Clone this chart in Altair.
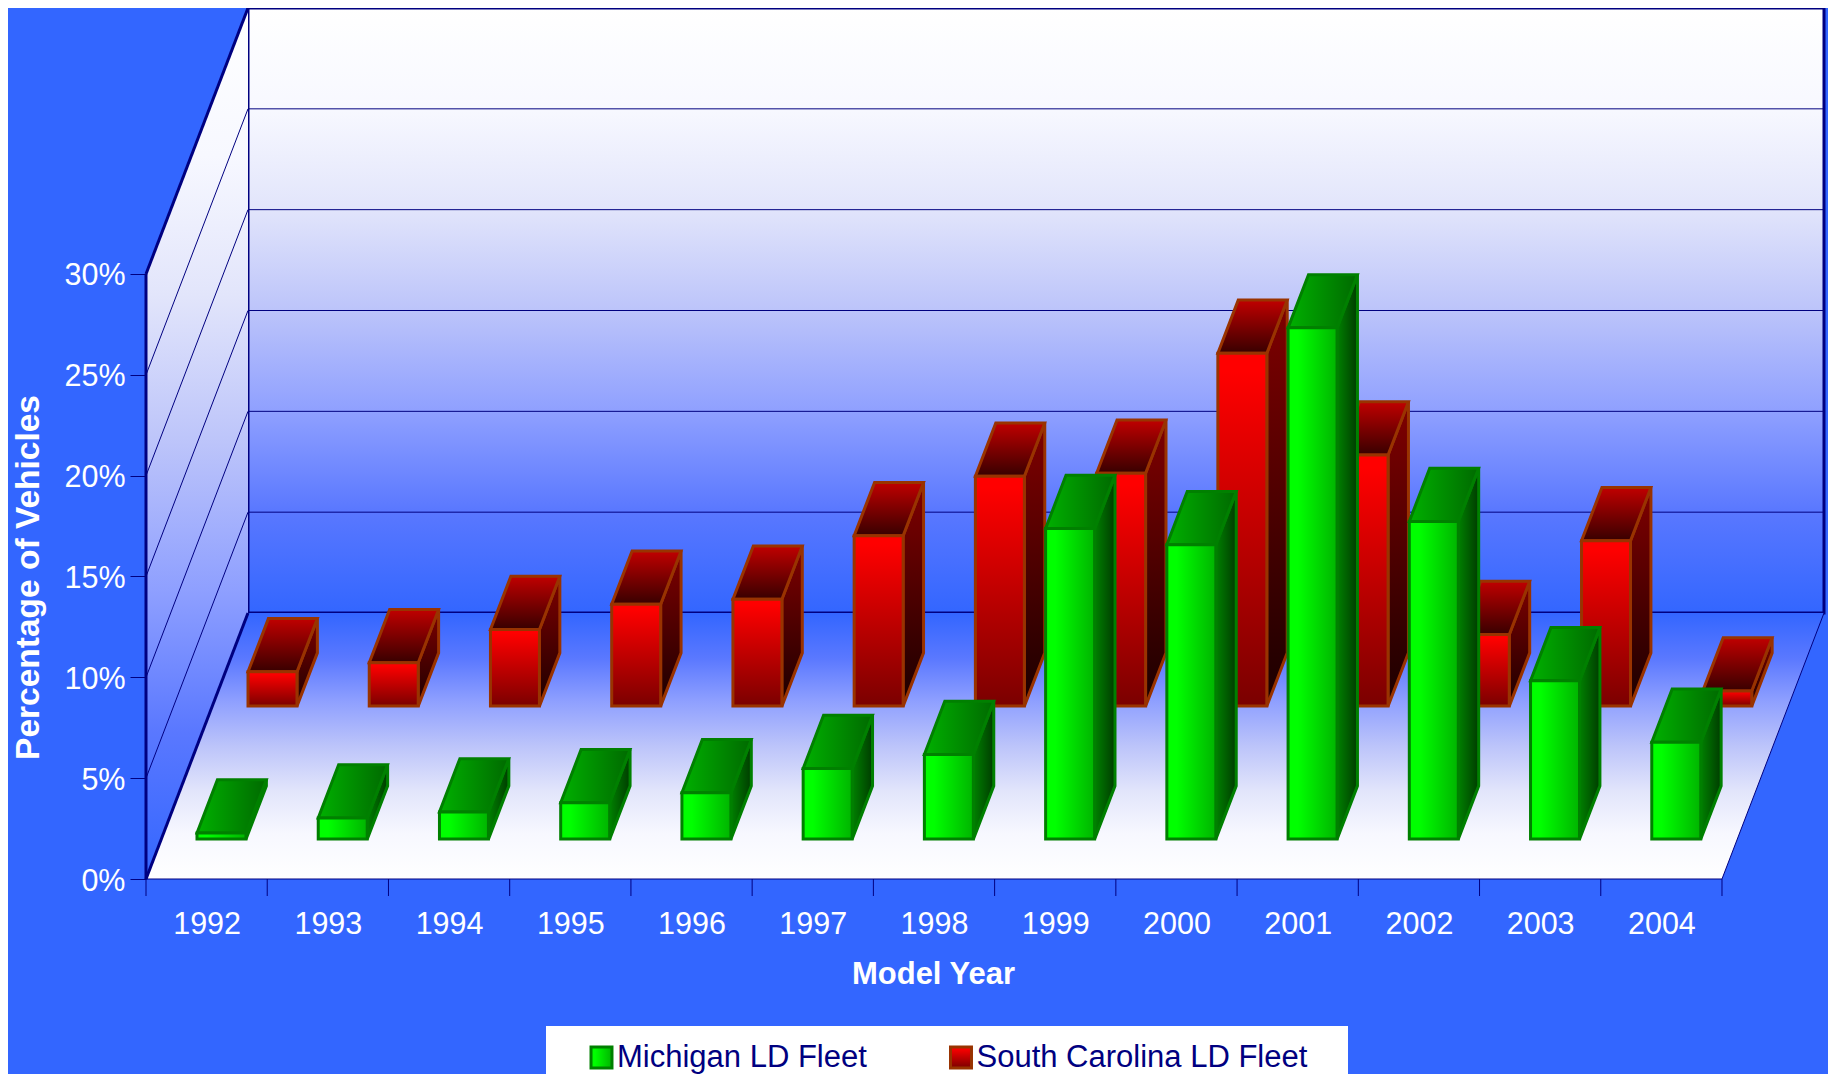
import altair as alt
import pandas as pd

YEARS = [1992, 1993, 1994, 1995, 1996, 1997, 1998, 1999, 2000, 2001, 2002, 2003, 2004]
MICHIGAN = [0.3, 1.05, 1.35, 1.8, 2.3, 3.5, 4.2, 15.4, 14.6, 25.35, 15.75, 7.85, 4.8]
CAROLINA = [1.7, 2.15, 3.8, 5.05, 5.3, 8.45, 11.4, 11.55, 17.5, 12.45, 3.55, 8.2, 0.75]
SERIES = ["Michigan LD Fleet", "South Carolina LD Fleet"]
TICKS = [0, 5, 10, 15, 20, 25, 30]

# oblique projection, in axis units
DX, DY = 0.8414, 13.19
N, YMAX = len(YEARS), 30
BAR_X0, BAR_W, BAR_DEPTH = 0.2945, 0.404, 0.2
SERIES_DEPTH = {SERIES[0]: 0.15, SERIES[1]: 0.65}

NAVY, BLUE = "#000080", "#3366ff"
FONT = "Liberation Sans"
W, H = 1678, 871

WALL_STOPS = [(0, "#ffffff"), (0.17, "#f7f8ff"), (0.33, "#e2e5fb"), (0.5, "#bcc4fa"),
              (0.67, "#8e9fff"), (0.83, "#5a78ff"), (1, BLUE)]


def grad(c0, c1, vertical=True):
    return alt.LinearGradient(
        gradient="linear",
        stops=[alt.GradientStop(offset=0, color=c0), alt.GradientStop(offset=1, color=c1)],
        x1=0, y1=0, x2=0 if vertical else 1, y2=1 if vertical else 0)


def wall_grad(reverse=False):
    stops = [alt.GradientStop(offset=1 - o if reverse else o, color=c) for o, c in WALL_STOPS]
    stops.sort(key=lambda s: s.offset)
    return alt.LinearGradient(gradient="linear", stops=stops, x1=0, y1=0, x2=0, y2=1)


def grad_expr(c0, c1, vertical=True, mid=0):
    return alt.expr(
        "{gradient:'linear',x1:0,y1:0,x2:%d,y2:%d,stops:[{offset:0,color:'%s'},{offset:%s,color:'%s'},{offset:1,color:'%s'}]}"
        % (0 if vertical else 1, 1 if vertical else 0, c0, mid, c0, c1)
    )


def frames(series, values):
    t0 = SERIES_DEPTH[series]
    t1 = t0 + BAR_DEPTH
    front, side, top = [], [], []
    for i, (yr, v) in enumerate(zip(YEARS, values)):
        xl, xr = i + BAR_X0, i + BAR_X0 + BAR_W
        base = DY * t0
        front.append(dict(year=yr, series=series, x=xl + DX * t0, x2=xr + DX * t0, y=base, y2=base + v))
        for t in (t0, t1):
            side.append(dict(year=yr, x=xr + DX * t, y=DY * t, y2=DY * t + v))
            top.append(dict(year=yr, y=DY * t + v, x=xl + DX * t, x2=xr + DX * t))
    return pd.DataFrame(front), pd.DataFrame(side), pd.DataFrame(top)


xs = alt.Scale(domain=[0, N + DX], nice=False, zero=False)
ys = alt.Scale(domain=[0, YMAX + DY], nice=False, zero=False)

x_axis = alt.Axis(
    values=[i + 0.5 for i in range(N)], labelExpr="%s[floor(datum.value)]" % YEARS,
    ticks=False, domain=False, grid=False, labelColor="white", labelFont=FONT, labelFontSize=30.5,
    labelPadding=30, labelFlush=False, labelOverlap=False, labelAngle=0,
    title="Model Year", titleColor="white", titleFont=FONT, titleFontSize=31, titleFontWeight="bold",
    titleX=787, titleY=95, titleBaseline="middle", titleAlign="center")
y_axis = alt.Axis(
    values=TICKS, labelExpr="datum.value + '%'", tickColor=NAVY, tickSize=16, tickWidth=1,
    domain=False, grid=False, labelColor="white", labelFont=FONT, labelFontSize=30.5, labelPadding=5,
    labelOffset=2,
    title="Percentage of Vehicles", titleColor="white", titleFont=FONT, titleFontSize=33.5,
    titleFontWeight="bold", titleX=-118, titleY=569, titleAngle=270, titleAlign="center",
    titleBaseline="middle")


def X(f="x"):
    return alt.X(f, type="quantitative", scale=xs, axis=x_axis)


def Y(f="y"):
    return alt.Y(f, type="quantitative", scale=ys, axis=y_axis, stack=None)


color_scale = alt.Scale(domain=SERIES, range=[
    grad_expr("#00ff00", "#00b400", vertical=False, mid=0.2),
    grad_expr("#ff0000", "#7a0000", vertical=True, mid=0.05),
])
stroke_scale = alt.Scale(domain=SERIES, range=["#008000", "#993300"])

# ---- room
back = alt.Chart(pd.DataFrame([dict(x=DX, x2=N + DX, y=DY, y2=YMAX + DY)])).mark_rect(
    color=wall_grad(), stroke=NAVY, strokeWidth=3
).encode(x=X(), x2="x2", y=Y(), y2="y2")

left_wall = alt.Chart(pd.DataFrame([dict(k=0, x=0, y=0, y2=YMAX), dict(k=0, x=DX, y=DY, y2=YMAX + DY)])).mark_area(
    color=wall_grad(), orient="vertical"
).encode(x=X(), y=Y(), y2="y2", detail="k:N")

floor = alt.Chart(pd.DataFrame([dict(k=0, y=0, x=0, x2=N), dict(k=0, y=DY, x=DX, x2=N + DX)])).mark_area(
    color=wall_grad(reverse=True), orient="horizontal"
).encode(x=X(), x2="x2", y=Y(), detail="k:N")

grid_df = pd.DataFrame(
    [dict(x=DX, x2=N + DX, y=t + DY, y2=t + DY) for t in TICKS[1:-1]]
    + [dict(x=0, x2=DX, y=t, y2=t + DY) for t in TICKS[1:-1]]
    + [dict(x=0, x2=N, y=0, y2=0), dict(x=N, x2=N + DX, y=0, y2=DY)]
)
grid = alt.Chart(grid_df).mark_rule(color=NAVY, strokeWidth=1).encode(x=X(), x2="x2", y=Y(), y2="y2")

edge_df = pd.DataFrame([
    dict(x=0, x2=DX, y=YMAX, y2=YMAX + DY),
    dict(x=0, x2=DX, y=0, y2=DY),
    dict(x=0, x2=0, y=0, y2=YMAX),
])
edges = alt.Chart(edge_df).mark_rule(color=NAVY, strokeWidth=3).encode(x=X(), x2="x2", y=Y(), y2="y2")

xticks = alt.Chart(pd.DataFrame({"x": list(range(N + 1)), "y": [0] * (N + 1)})).mark_rule(
    color=NAVY, strokeWidth=1
).encode(x=X(), y=Y(), y2=alt.value(H + 17))


def bars(series, values, side_fill, top_fill, stroke):
    fr, si, to = frames(series, values)
    side = alt.Chart(si).mark_area(color=side_fill, stroke=stroke, strokeWidth=3, orient="vertical").encode(
        x=X(), y=Y(), y2="y2", detail="year:N")
    top = alt.Chart(to).mark_area(color=top_fill, stroke=stroke, strokeWidth=3, orient="horizontal").encode(
        x=X(), x2="x2", y=Y(), detail="year:N")
    front = alt.Chart(fr).mark_rect(strokeWidth=3).encode(
        x=X(), x2="x2", y=Y(), y2="y2",
        color=alt.Color("series:N", scale=color_scale, legend=alt.Legend(
            orient="none", legendX=440, legendY=1034, direction="horizontal", columns=2, title=None,
            symbolType="square", symbolSize=440, symbolStrokeWidth=3, labelFont=FONT, labelFontSize=31,
            labelColor=NAVY, labelOffset=0, columnPadding=77.5, padding=0, labelLimit=500)),
        stroke=alt.Stroke("series:N", scale=stroke_scale, legend=None),
    )
    return side + top + front


legend_box = alt.Chart(pd.DataFrame({"k": [0]})).mark_rect(color="white").encode(
    x=alt.value(400), x2=alt.value(1202), y=alt.value(1018), y2=alt.value(1066))

red = bars(SERIES[1], CAROLINA, grad("#800000", "#1a0000"), grad("#c00000", "#380000"), "#993300")
green = bars(SERIES[0], MICHIGAN, grad("#008000", "#003c00", vertical=False), grad("#00b000", "#006a00", vertical=False), "#008000")

chart = alt.layer(back, left_wall, floor, grid, edges, xticks, legend_box, red, green).properties(
    width=W, height=H, background=BLUE,
    padding={"left": 138, "top": 0, "right": 4, "bottom": 195},
    autosize=alt.AutoSizeParams(type="none"),
).configure_view(stroke=None)

chart.save("out.html", embed_options={"renderer": "svg", "actions": False})
